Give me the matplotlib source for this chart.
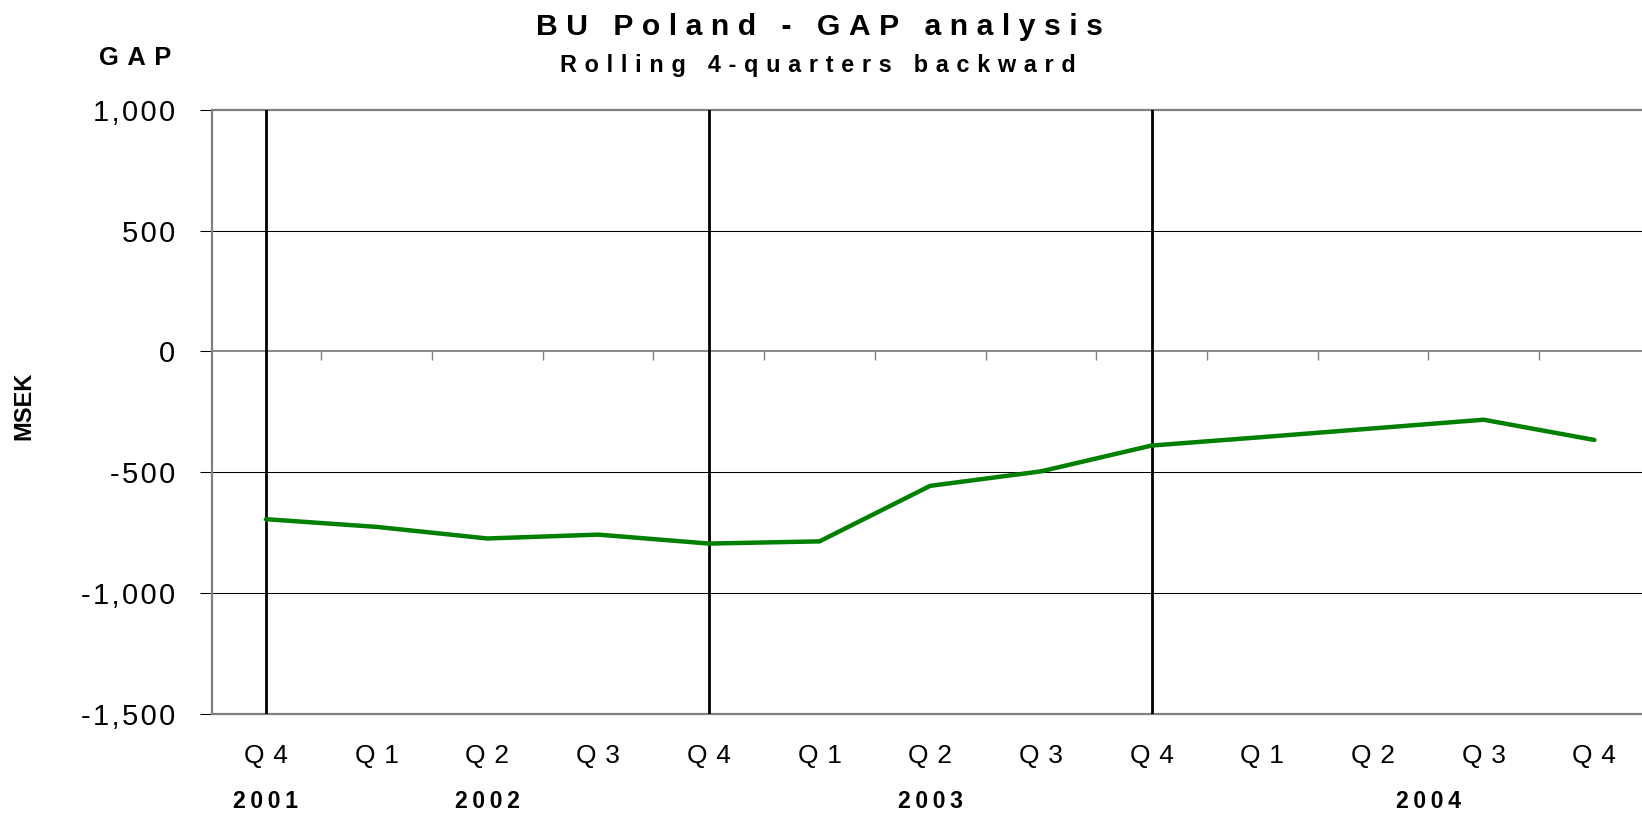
import numpy as np
import matplotlib
matplotlib.use('Agg')
from matplotlib import pyplot as plt

plt.rcParams['font.family'] = ['Liberation Sans', 'DejaVu Sans']

# data (MSEK, rolling 4 quarters backward)
quarters = ['Q4', 'Q1', 'Q2', 'Q3', 'Q4', 'Q1', 'Q2', 'Q3', 'Q4', 'Q1', 'Q2', 'Q3', 'Q4']
gap_values = [-695, -727, -775, -759, -796, -787, -557, -497, -390, -355, -319, -283, -367]
years = ['2001', '2002', '2003', '2004']
year_at = [0, 2, 6, 10.5]          # category position of each year label
year_breaks = [0, 4, 8]            # Q4 markers drawn as black verticals
y_ticks = [-1500, -1000, -500, 0, 500, 1000]
y_tick_labels = ['-1,500', '-1,000', '-500', '0', '500', '1,000']

GREEN = '#008000'
GRAY = '#808080'

# spacing characters used to mimic the wide letter tracking of the original
HAIR = '\u200a'
THIN = '\u2009'
THIRD = '\u2004'


def spaced(s, sep=THIN):
    return sep.join(s)


W, H = 1642, 813
AX_L, AX_B, AX_T = 211.7, 713.5, 110.0
fig = plt.figure(figsize=(W / 100, H / 100), dpi=100)
ax = fig.add_axes([AX_L / W, (H - AX_B) / H, (W - AX_L) / W, (AX_B - AX_T) / H])
ax_h = AX_B - AX_T

x = np.arange(len(quarters))
ax.set_xlim(-0.49, 12.43)
ax.set_ylim(-1500, 1000)

# horizontal grid
for v in y_ticks:
    if v in (500, -500, -1000):
        ax.axhline(v, color='black', lw=0.75, zorder=1)
ax.axhline(0, color=GRAY, lw=1.3, zorder=2)

# year separators
for b in year_breaks:
    ax.axvline(b, color='black', lw=2.0, zorder=3)

# category ticks hanging from the zero line
tick_x = x[:-1] + 0.5
ax.plot(tick_x, np.zeros_like(tick_x), ls='none', marker=3, ms=6.5,
        mew=1.0, color=GRAY, zorder=2)

ax.plot(x, gap_values, color=GREEN, lw=3.2, zorder=4,
        solid_capstyle='round', solid_joinstyle='miter')

# spines
for side in ('left', 'top', 'bottom'):
    ax.spines[side].set_color(GRAY)
    ax.spines[side].set_linewidth(1.6)
ax.spines['right'].set_visible(False)

ax.set_yticks(y_ticks)
ax.set_yticklabels([spaced(t, HAIR) for t in y_tick_labels], fontsize=21)
ax.tick_params(axis='y', length=8.9, width=0.75, color='black', pad=17.5)

ax.set_xticks(x)
ax.set_xticklabels([spaced(q, THIRD) for q in quarters], fontsize=19,
                   va='baseline')
ax.tick_params(axis='x', length=0, pad=(763 - AX_B) * 0.72)

xt = ax.get_xaxis_transform()
for yr, pos in zip(years, year_at):
    ax.text(pos, -(808.3 - AX_B) / ax_h, spaced(yr), transform=xt,
            ha='center', va='baseline', fontsize=16.6, fontweight='bold')

fig.text(819 / W, 1 - 35 / H, spaced('BU Poland - GAP analysis', THIN + HAIR),
         ha='center', va='baseline', fontsize=21.7, fontweight='bold')
fig.text(818 / W, 1 - 71.7 / H, spaced('Rolling 4-quarters backward', THIRD),
         ha='center', va='baseline', fontsize=16.8, fontweight='bold')
fig.text(135 / W, 1 - 65 / H, spaced('GAP', THIRD),
         ha='center', va='baseline', fontsize=18.4, fontweight='bold')
fig.text(24 / W, 1 - 406 / H, 'MSEK', rotation=90,
         ha='center', va='center', fontsize=17, fontweight='bold')

fig.savefig('out.png', dpi=100)
